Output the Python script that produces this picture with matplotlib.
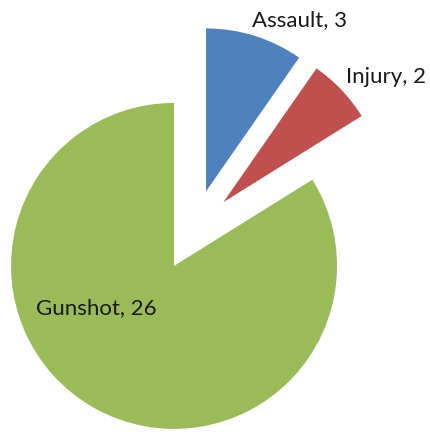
import matplotlib
matplotlib.use('Agg')
import matplotlib.pyplot as plt

# data
causes = ['Assault', 'Injury', 'Gunshot']
counts = [3, 2, 26]
colors = ['#4F81BD', '#C0504D', '#9BBB59']

# where each label sits (pie radius = 1)
label_xy = [(0.648, 1.296), (1.179, 0.947), (-0.600, -0.471)]

fig = plt.figure(figsize=(4.31, 4.35), dpi=100)
ax = fig.add_axes([0, 0, 1, 1])

ax.pie(counts, colors=colors, startangle=90, counterclock=False,
       explode=[0.25] * len(counts),
       wedgeprops={'linewidth': 0})

for name, n, (x, y) in zip(causes, counts, label_xy):
    ax.text(x, y, '%s, %d' % (name, n), ha='center', va='center',
            fontsize=16, family=['Lato', 'DejaVu Sans'], color='#1a1a1a')

ax.set_aspect('equal')
ax.set_xlim(-1.189, 1.455)
ax.set_ylim(-1.250, 1.419)
ax.axis('off')

plt.savefig('out.png', dpi=100)
